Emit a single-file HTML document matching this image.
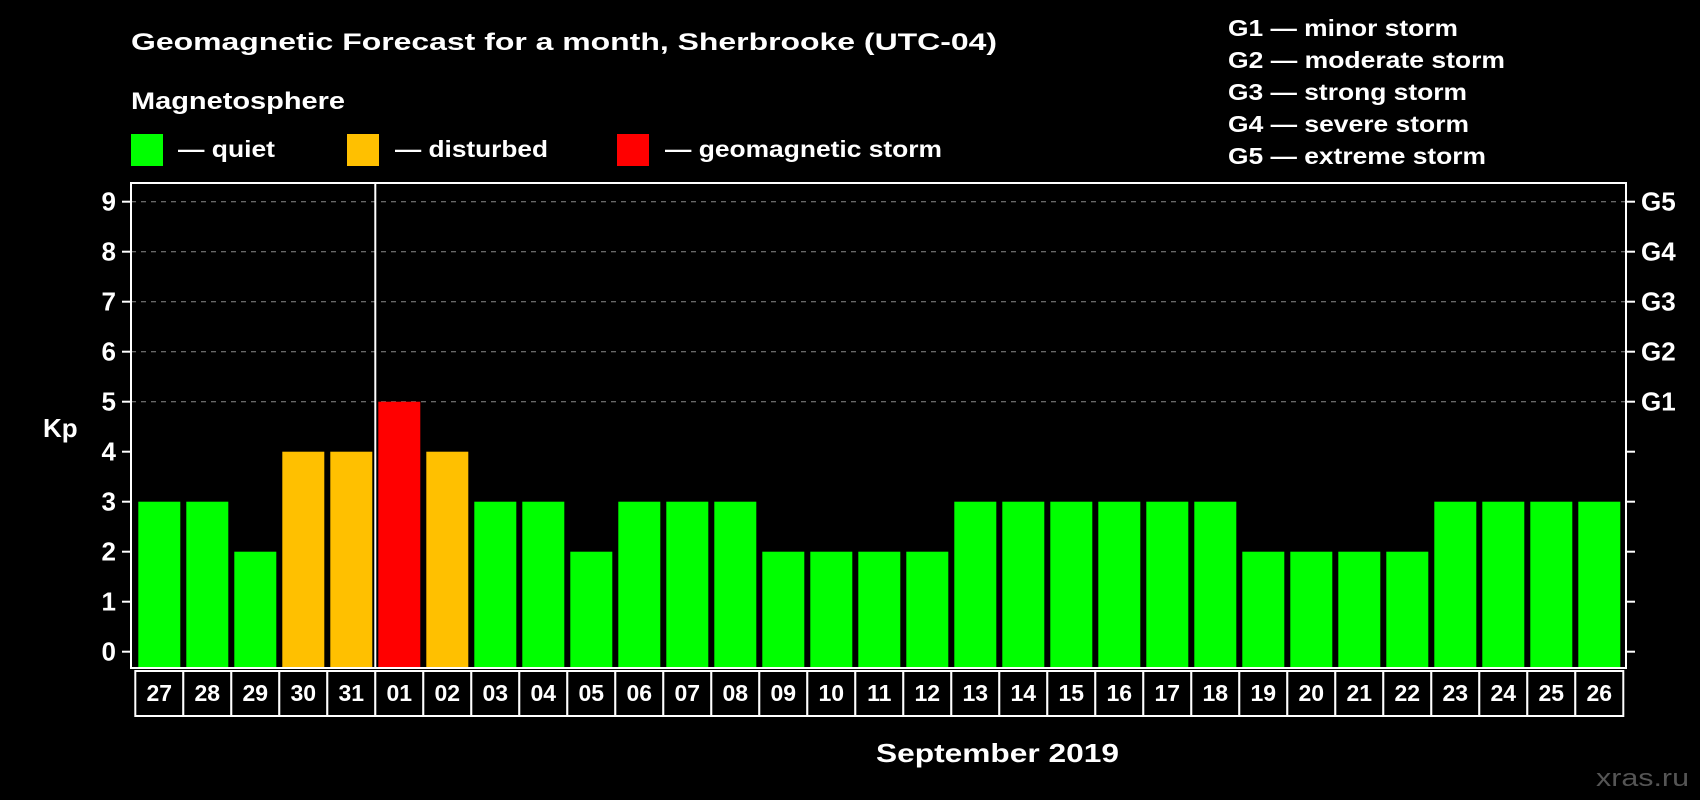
<!DOCTYPE html>
<html><head><meta charset="utf-8"><style>
html,body{margin:0;padding:0;background:#000;}
svg{display:block;font-family:"Liberation Sans",Arial,sans-serif;font-weight:bold;}
</style></head><body>
<svg id="chart" width="1700" height="800" viewBox="0 0 1700 800">
<rect x="0" y="0" width="1700" height="800" fill="#000"/>
<text x="131" y="50" font-size="24" fill="#fff" textLength="866" lengthAdjust="spacingAndGlyphs">Geomagnetic Forecast for a month, Sherbrooke (UTC-04)</text>
<text x="131" y="109" font-size="24" fill="#fff" textLength="214" lengthAdjust="spacingAndGlyphs">Magnetosphere</text>
<g>
<rect x="131" y="134" width="32" height="32" fill="#00ff00"/>
<text x="178" y="157" font-size="23" fill="#fff" textLength="97" lengthAdjust="spacingAndGlyphs">— quiet</text>
</g>
<g>
<rect x="347" y="134" width="32" height="32" fill="#ffc000"/>
<text x="395" y="157" font-size="23" fill="#fff" textLength="153" lengthAdjust="spacingAndGlyphs">— disturbed</text>
</g>
<g>
<rect x="617" y="134" width="32" height="32" fill="#ff0000"/>
<text x="665" y="157" font-size="23" fill="#fff" textLength="277" lengthAdjust="spacingAndGlyphs">— geomagnetic storm</text>
</g>
<g font-size="23" fill="#fff">
<text x="1228" y="36" textLength="230" lengthAdjust="spacingAndGlyphs">G1 — minor storm</text>
<text x="1228" y="68" textLength="277" lengthAdjust="spacingAndGlyphs">G2 — moderate storm</text>
<text x="1228" y="100" textLength="239" lengthAdjust="spacingAndGlyphs">G3 — strong storm</text>
<text x="1228" y="132" textLength="241" lengthAdjust="spacingAndGlyphs">G4 — severe storm</text>
<text x="1228" y="164" textLength="258" lengthAdjust="spacingAndGlyphs">G5 — extreme storm</text>
</g>
<text x="43" y="437" font-size="26" fill="#fff">Kp</text>
<text x="876" y="762" font-size="26" fill="#fff" textLength="243" lengthAdjust="spacingAndGlyphs">September 2019</text>
<text x="1596" y="786" font-size="24" fill="#555" font-weight="normal" textLength="93" lengthAdjust="spacingAndGlyphs">xras.ru</text>
<g id="grid"></g><g id="bars"></g><g id="axes"></g><g id="dates"></g>
</svg>
<script>
const days = ["27","28","29","30","31","01","02","03","04","05","06","07","08","09","10","11","12","13","14","15","16","17","18","19","20","21","22","23","24","25","26"];
const kpValues = [3,3,2,4,4,5,4,3,3,2,3,3,3,2,2,2,2,3,3,3,3,3,3,2,2,2,2,3,3,3,3];
const yTicks = [0,1,2,3,4,5,6,7,8,9];
const gLabels = ["","","","","","G1","G2","G3","G4","G5"];
const monthStartIndex = 5;

const NS = "http://www.w3.org/2000/svg";
const plotLeft = 131, plotRight = 1626, plotTop = 183, plotBottom = 668;
const slot0 = 135.3, pitch = 48, barW = 42;
const yScale = v => 651.7 - v * 50;
const xScale = i => slot0 + i * pitch;
function mk(tag, attrs, parent) { const e = document.createElementNS(NS, tag); for (const k in attrs) e.setAttribute(k, attrs[k]); parent.appendChild(e); return e; }
function color(v) { return v >= 5 ? "#ff0000" : (v >= 4 ? "#ffc000" : "#00ff00"); }

const grid = document.getElementById("grid");
const bars = document.getElementById("bars");
const axes = document.getElementById("axes");
const dates = document.getElementById("dates");

yTicks.forEach((t, i) => {
  if (t >= 5) {
    const g = mk("line", {x1: plotLeft, x2: plotRight, y1: yScale(t), y2: yScale(t), stroke: "#8a8a8a", "stroke-width": 1, "stroke-dasharray": "5 5"}, grid);
    
    
  }
  const tl = mk("line", {x1: plotLeft - 9, x2: plotLeft, y1: yScale(t), y2: yScale(t), stroke: "#fff", "stroke-width": 2}, axes);
  
  
  const tr = mk("line", {x1: plotRight, x2: plotRight + 9, y1: yScale(t), y2: yScale(t), stroke: "#fff", "stroke-width": 2}, axes);
  
  
  const lb = mk("text", {x: 116, y: yScale(t) + 9, "font-size": 26, fill: "#fff", "text-anchor": "end"}, axes);
  lb.textContent = String(t);
  
  
  if (gLabels[i]) {
    const gl = mk("text", {x: 1641, y: yScale(t) + 9, "font-size": 26, fill: "#fff"}, axes);
    gl.textContent = gLabels[i];
    
    
  }
});

kpValues.forEach((v, i) => {
  const b = mk("rect", {x: xScale(i) + 3, y: yScale(v), width: barW, height: plotBottom - yScale(v), fill: color(v)}, bars);
  
  
});

const frame = mk("rect", {x: plotLeft, y: plotTop, width: plotRight - plotLeft, height: plotBottom - plotTop, fill: "none", stroke: "#fff", "stroke-width": 2}, axes);


const ms = mk("line", {x1: xScale(monthStartIndex), x2: xScale(monthStartIndex), y1: plotTop, y2: plotBottom, stroke: "#fff", "stroke-width": 2}, axes);



days.forEach((d, i) => {
  const r = mk("rect", {x: xScale(i), y: 671, width: pitch, height: 45, fill: "#000", stroke: "#fff", "stroke-width": 2}, dates);
  
  
  const t = mk("text", {x: xScale(i) + pitch / 2, y: 701, "font-size": 23, fill: "#fff", "text-anchor": "middle"}, dates);
  t.textContent = d;
  
  
});
</script>
</body></html>
